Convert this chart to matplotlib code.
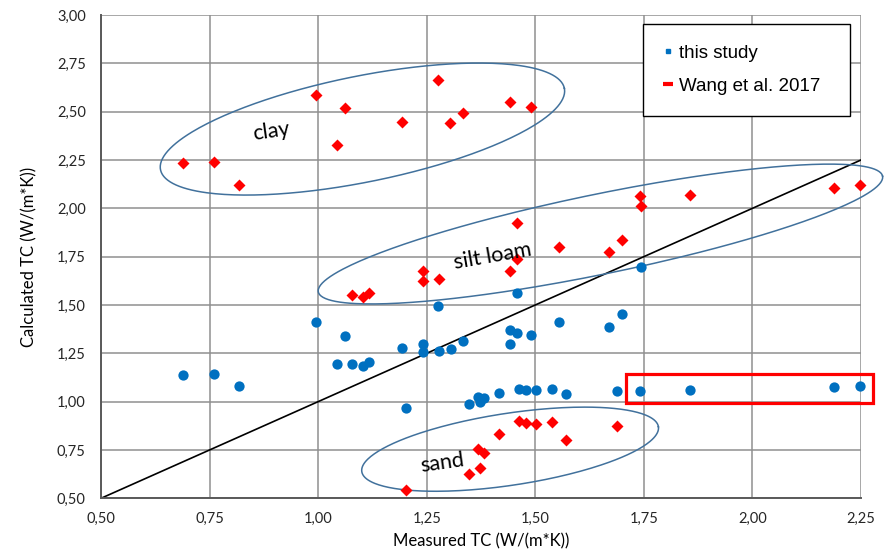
import numpy as np
import matplotlib
matplotlib.use("Agg")
import matplotlib.pyplot as plt
from matplotlib.lines import Line2D
from matplotlib.patches import Rectangle
from matplotlib.ticker import FuncFormatter

# this study (blue circles)
study_x = [0.689, 0.760, 0.818, 0.994, 1.043, 1.061, 1.077, 1.104, 1.118, 1.194,
           1.202, 1.241, 1.241, 1.275, 1.279, 1.305, 1.334, 1.347, 1.369, 1.373,
           1.383, 1.416, 1.441, 1.441, 1.457, 1.459, 1.463, 1.478, 1.491, 1.502,
           1.538, 1.555, 1.571, 1.669, 1.689, 1.700, 1.743, 1.741, 1.856, 2.188, 2.248]
study_y = [1.138, 1.141, 1.081, 1.410, 1.193, 1.341, 1.195, 1.186, 1.205, 1.279,
           0.967, 1.298, 1.255, 1.495, 1.262, 1.271, 1.314, 0.988, 1.023, 0.998,
           1.018, 1.043, 1.370, 1.297, 1.560, 1.353, 1.064, 1.060, 1.345, 1.058,
           1.063, 1.413, 1.038, 1.388, 1.057, 1.452, 1.698, 1.053, 1.060, 1.074, 1.081]

# Wang et al. 2017 (red diamonds)
wang_x = [0.689, 0.760, 0.818, 0.994, 1.061, 1.043, 1.194, 1.275, 1.304, 1.334, 1.441, 1.491,
          1.077, 1.104, 1.118, 1.241, 1.241, 1.279, 1.441, 1.457, 1.459, 1.555, 1.669, 1.700,
          1.741, 1.743, 1.856, 2.188, 2.248,
          1.202, 1.347, 1.369, 1.373, 1.383, 1.416, 1.463, 1.478, 1.502, 1.538, 1.571, 1.689]
wang_y = [2.233, 2.241, 2.121, 2.588, 2.521, 2.329, 2.448, 2.664, 2.440, 2.491, 2.552, 2.526,
          1.551, 1.543, 1.563, 1.677, 1.626, 1.634, 1.675, 1.922, 1.740, 1.798, 1.776, 1.836,
          2.064, 2.010, 2.069, 2.103, 2.121,
          0.543, 0.624, 0.755, 0.658, 0.736, 0.831, 0.901, 0.888, 0.883, 0.896, 0.801, 0.876]

ticks = [0.50, 0.75, 1.00, 1.25, 1.50, 1.75, 2.00, 2.25, 2.50, 2.75, 3.00]

BLUE = "#0070C0"
RED = "#FF0000"
OUTLINE = "#41719C"
CAL = "Lato"

W, H = 885, 553
L, R, B, T = 101 / W, 861 / W, 1 - 498.3 / H, 1 - 15 / H

fig = plt.figure(figsize=(W / 100, H / 100), dpi=100)
fig.subplots_adjust(left=L, right=R, bottom=B, top=T)
ax = fig.add_subplot(111)

ax.set_xlim(0.5, 2.25)
ax.set_ylim(0.5, 3.0)
ax.set_xticks(ticks[:8])
ax.set_yticks(ticks)
fmt = FuncFormatter(lambda v, p: f"{v:.2f}".replace(".", ","))
ax.xaxis.set_major_formatter(fmt)
ax.yaxis.set_major_formatter(fmt)
ax.grid(True, color="#8f8f8f", lw=1.1)
ax.set_axisbelow(True)
for s in ["top", "right"]:
    ax.spines[s].set_visible(False)
for s in ["left", "bottom"]:
    ax.spines[s].set_color("#595959")
    ax.spines[s].set_linewidth(1.4)
ax.tick_params(length=0, labelsize=10.5, colors="#262626")
ax.tick_params(axis="y", pad=11)
ax.tick_params(axis="x", pad=10)
for lab in ax.get_xticklabels() + ax.get_yticklabels():
    lab.set_fontfamily(CAL)

ax.set_xlabel("Measured TC (W/(m*K))", fontsize=12, family=CAL, labelpad=5)
ax.set_ylabel("Calculated TC (W/(m*K))", fontsize=12, family=CAL, labelpad=14)

# 1:1 line
ax.plot([0.5, 2.25], [0.5, 2.25], color="black", lw=1.2, zorder=2)

ax.plot(study_x, study_y, "o", color=BLUE, ms=7.4, mec="none", zorder=3, clip_on=False)
ax.plot(wang_x, wang_y, "D", color=RED, ms=6.0, mec="none", zorder=3, clip_on=False)

# ellipses drawn in pixel space, converted to data units
px_x = W * (R - L) / 1.75
px_y = H * (T - B) / 2.5


def outline(cx, cy, a, b, ang):
    t = np.linspace(0, 2 * np.pi, 300)
    th = np.radians(ang)
    dx = a * np.cos(t) * np.cos(th) - b * np.sin(t) * np.sin(th)
    dy = a * np.cos(t) * np.sin(th) + b * np.sin(t) * np.cos(th)
    ax.plot(cx + dx / px_x, cy + dy / px_y, color=OUTLINE, lw=1.1,
            clip_on=False, zorder=2)


outline(1.102, 2.410, 206, 53, 11.4)
outline(1.650, 1.867, 288, 40, 11.6)
outline(1.442, 0.754, 150, 36, 8.6)

ax.text(0.893, 2.395, "clay", fontsize=15.5, family=CAL, rotation=8,
        ha="center", va="center", rotation_mode="anchor")
ax.text(1.403, 1.750, "silt loam", fontsize=15.5, family=CAL, rotation=10,
        ha="center", va="center", rotation_mode="anchor")
ax.text(1.285, 0.685, "sand", fontsize=15.5, family=CAL, rotation=8,
        ha="center", va="center", rotation_mode="anchor")

ax.add_patch(Rectangle((1.710, 0.991), 0.568, 0.150, fill=False,
                       edgecolor=RED, lw=2.3, clip_on=False, zorder=4))

handles = [Line2D([], [], ls="none", marker="s", color=BLUE, ms=3),
           Line2D([], [], ls="none", marker="_", color=RED, ms=7, mew=3)]
leg = ax.legend(handles, ["this study", "Wang et al. 2017"],
                loc="upper left", bbox_to_anchor=(0.713, 0.801, 0.2725, 0.18),
                mode="expand", borderaxespad=0, fancybox=False, framealpha=1,
                edgecolor="black", prop={"family": "Liberation Sans", "size": 13.5},
                handlelength=0.5, handletextpad=0.35, labelspacing=0.85,
                borderpad=1.1)
leg.get_frame().set_linewidth(1.0)

fig.savefig("out.png", dpi=100)
